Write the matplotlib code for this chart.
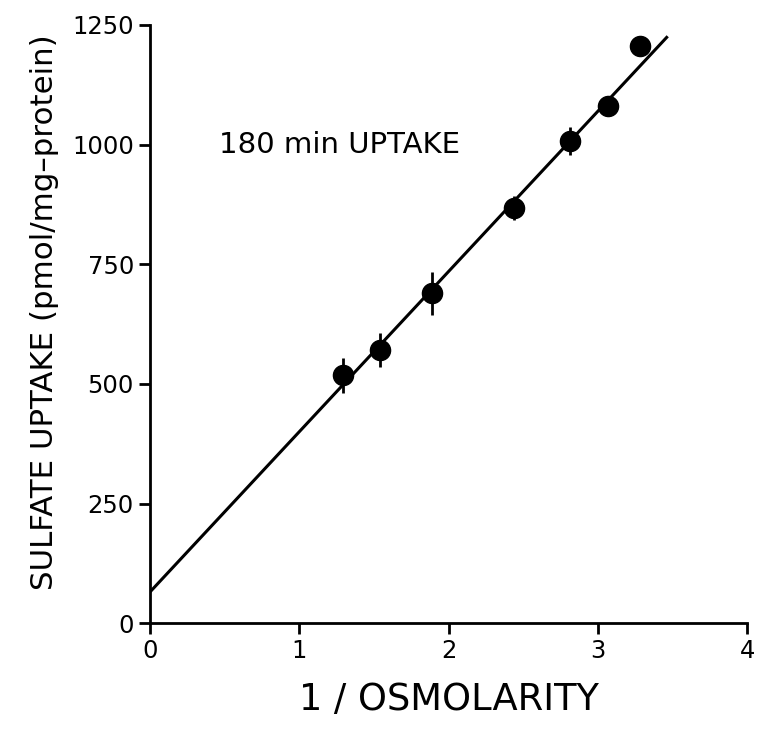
import matplotlib
matplotlib.use("Agg")
import matplotlib.pyplot as plt
import numpy as np

# data
inv_osm = [1.29, 1.54, 1.89, 2.44, 2.815, 3.07, 3.28]
uptake = [518, 571, 689, 868, 1008, 1081, 1205]
err = [37, 35, 45, 25, 29, 20, 10]

# regression line
fit_x = [0.0, 3.46]
fit_y = [65, 1224]

plt.rcParams['font.family'] = ['DejaVu Sans']

fig = plt.figure(figsize=(7.61, 7.34), dpi=100)
ax = fig.add_axes([0.197, 0.151, 0.785, 0.815])

ax.plot(fit_x, fit_y, color='black', lw=2.2, zorder=2)
ax.errorbar(inv_osm, uptake, yerr=err, fmt='o', color='black', ms=14.5,
            elinewidth=2, capsize=0, zorder=3)

ax.text(0.46, 999, "180 min UPTAKE", fontsize=21, va='center', ha='left')

ax.set_xlim(0, 4)
ax.set_ylim(0, 1250)
ax.set_xticks([0, 1, 2, 3, 4])
ax.set_yticks([0, 250, 500, 750, 1000, 1250])
ax.spines['top'].set_visible(False)
ax.spines['right'].set_visible(False)
for s in ['left', 'bottom']:
    ax.spines[s].set_linewidth(2)
ax.tick_params(direction='out', length=8, width=2, labelsize=17.5)
ax.set_xlabel("1 / OSMOLARITY", fontsize=26.5, labelpad=13)
ax.set_ylabel("SULFATE UPTAKE (pmol/mg\u2013protein)", fontsize=22.2)
ax.yaxis.set_label_coords(-0.152, 0.52)

fig.savefig("out.png", dpi=100)
